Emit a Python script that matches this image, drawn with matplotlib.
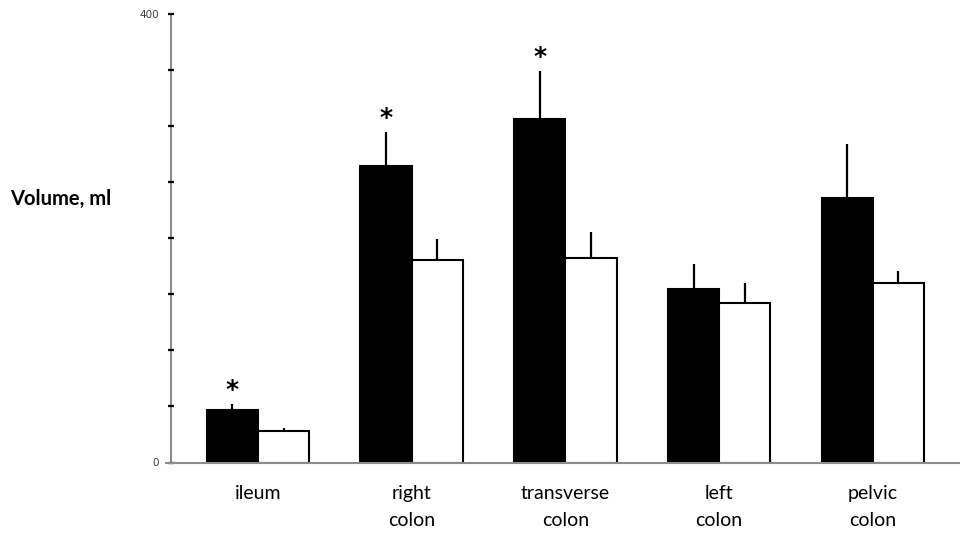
import matplotlib
matplotlib.use("Agg")
import matplotlib.pyplot as plt
import numpy as np

segments = ["ileum", "right\ncolon", "transverse\ncolon", "left\ncolon", "pelvic\ncolon"]
filled_mean = [47, 264, 306, 155, 236]
filled_err = [5.5, 31, 43, 22, 48.5]
open_mean = [28, 181, 182, 142, 160]
open_err = [2.5, 18.5, 23.5, 18.5, 11]
significant = [True, True, True, False, False]

plt.rcParams["font.family"] = ["Lato", "DejaVu Sans"]

fig = plt.figure(figsize=(9.6, 5.34), dpi=100)
ax = fig.add_axes([171 / 960, 1 - 462.5 / 534, 1 - 171 / 960, (462.5 - 14) / 534])

x = np.arange(len(segments))
w = 1 / 3
ax.bar(x - w / 2, filled_mean, w, color="black", edgecolor="black", linewidth=1.5, zorder=3)
ax.bar(x + w / 2, open_mean, w, color="white", edgecolor="black", linewidth=1.5, zorder=3)

# upper-only error whiskers without caps
for xi, m, e in zip(x - w / 2, filled_mean, filled_err):
    ax.plot([xi, xi], [m, m + e], color="black", lw=1.6, zorder=2, solid_capstyle="butt")
for xi, m, e in zip(x + w / 2, open_mean, open_err):
    ax.plot([xi, xi], [m, m + e], color="black", lw=1.6, zorder=2, solid_capstyle="butt")

for xi, m, e, s in zip(x - w / 2, filled_mean, filled_err, significant):
    if s:
        ax.annotate("*", (xi, m + e), xytext=(0, 10), textcoords="offset points",
                    ha="center", va="center", fontsize=18, fontweight="bold",
                    family="DejaVu Sans")

ax.set_xlim(-0.566, 4.567)
ax.set_ylim(0, 400)

for side in ("top", "right"):
    ax.spines[side].set_visible(False)
ax.spines["left"].set_color("#8c8c8c")
ax.spines["left"].set_linewidth(1.5)
ax.spines["left"].set_zorder(1)
ax.spines["bottom"].set_visible(False)
ax.plot([-0.006, 1], [0, 0], transform=ax.transAxes, color="#8c8c8c", lw=1.5,
        clip_on=False, zorder=4)

ax.set_yticks(np.arange(0, 401, 50))
ax.set_yticklabels(["0", "", "", "", "", "", "", "", "400"])
ax.tick_params(axis="y", direction="inout", length=5, width=1.6, color="black",
               labelsize=7.5, labelcolor="#404040", pad=6)
for lab in ax.get_yticklabels():
    lab.set_family("DejaVu Sans")

ax.set_xticks(x)
ax.set_xticklabels(segments, fontsize=14, linespacing=1.75)
ax.tick_params(axis="x", length=0, pad=16)

fig.text(10 / 960, 1 - 199 / 534, "Volume, ml", fontsize=14.5, fontweight="bold",
         ha="left", va="center")

fig.savefig("out.png", dpi=100)
